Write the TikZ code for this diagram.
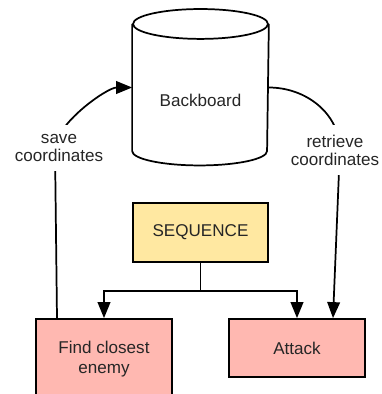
\documentclass[tikz,border=0pt]{standalone}
\usepackage{fontspec}
\setmainfont{Liberation Sans}
\usetikzlibrary{shapes.geometric,arrows.meta,positioning}
\definecolor{seqyellow}{HTML}{FFE8A1}
\definecolor{taskpink}{HTML}{FFB8B1}

\begin{document}
\begin{tikzpicture}[x=0.75pt,y=-0.75pt, line width=1.3pt,
    every node/.style={font=\fontsize{12.8}{13.5}\selectfont, text=black!85},
    task/.style={draw, rectangle, fill=taskpink, minimum width=102pt, align=center},
    lbl/.style={fill=white, align=center, inner ysep=7pt},
    arr/.style={-{Triangle[length=12pt,width=9.5pt]}}]
    \clip (0,0) rectangle (382,394);
    % storage drum: body node, outline drawn from its corners
    \node[minimum width=101.25pt, minimum height=94pt, label={[yshift=-10pt]center:Backboard}] (bb) at (200.5,87.5) {};
    \draw (bb.north west) -- (bb.south west) arc[start angle=180, end angle=360, x radius=50.6pt, y radius=10.8pt] -- (bb.north east);
    \draw (bb.north) ellipse [x radius=50.6pt, y radius=11.2pt];
    \node[draw, rectangle, fill=seqyellow, minimum width=101pt, minimum height=44pt] (seq) at (200.5,232.5) {SEQUENCE};
    \node[task, minimum height=60pt, font=\fontsize{12.8}{15}\selectfont] (fce) at (104,359) {Find closest\\enemy};
    \node[task, minimum height=43.5pt] (atk) at (297,348) {Attack};
    \draw[arr] (seq.south) -- ++(0,28) -| (fce.north);
    \draw[arr] (seq.south) -- ++(0,28) -| (atk.north);
    \draw[arr] (fce.north) ++(-47,0) -- ++(-2,-169) coordinate (k1) to[out=90,in=180,looseness=0.65] (bb.west);
    \draw[arr] (bb.east) to[out=0,in=90] ++(71,63) coordinate (k2) -- ([xshift=27pt]atk.north);
    \node[lbl] (save) at (59,148) {save\\coordinates};
    \node[lbl] (retr) at (335,150) {retrieve\\coordinates};
\end{tikzpicture}
\end{document}
